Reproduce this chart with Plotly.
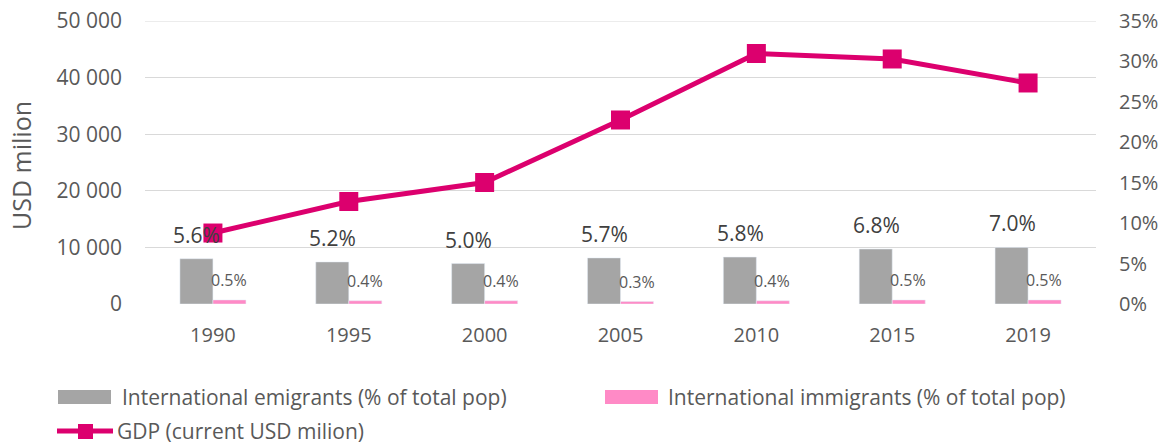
import plotly.graph_objects as go

years = ["1990", "1995", "2000", "2005", "2010", "2015", "2019"]
emigrants = [0.056, 0.052, 0.050, 0.057, 0.058, 0.068, 0.070]
immigrants = [0.005, 0.004, 0.004, 0.003, 0.004, 0.005, 0.005]
gdp = [12540, 18110, 21470, 32510, 44260, 43290, 39050]

emig_label = ["5.6%", "5.2%", "5.0%", "5.7%", "5.8%", "6.8%", "7.0%"]
immig_label = ["0.5%", "0.4%", "0.4%", "0.3%", "0.4%", "0.5%", "0.5%"]

gdp_ticks = [0, 10000, 20000, 30000, 40000, 50000]
gdp_ticktext = ["0", "10 000", "20 000", "30 000", "40 000", "50 000"]
pct_ticks = [0, 0.05, 0.10, 0.15, 0.20, 0.25, 0.30, 0.35]
pct_ticktext = ["0%", "5%", "10%", "15%", "20%", "25%", "30%", "35%"]

names = ["International emigrants (% of total pop)",
         "International immigrants (% of total pop)",
         "GDP (current USD milion)"]

GRAY = "#A5A5A5"
PINK = "#FF8AC6"
MAG = "#DC006E"
TXT = "#595959"
GRID = "#D9D9D9"
FONT = "Open Sans"

W, H = 1176, 447
# plot area in page pixels
L, R, T, B = 145, 1096, 21, 304

fig = go.Figure()
fig.add_trace(go.Bar(x=years, y=emigrants, name=names[0], marker_color=GRAY,
                     yaxis="y2", showlegend=False))
fig.add_trace(go.Bar(x=years, y=immigrants, name=names[1], marker_color=PINK,
                     yaxis="y2", showlegend=False))
fig.add_trace(go.Scatter(x=years, y=gdp, name=names[2], mode="lines+markers",
                         line=dict(color=MAG, width=5),
                         marker=dict(symbol="square", size=19, color=MAG),
                         yaxis="y", showlegend=False))

anns = []
for i, (v, t) in enumerate(zip(emigrants, emig_label)):
    anns.append(dict(x=i, y=v, xref="x", yref="y2", text=t, showarrow=False,
                     xshift=-16, yshift=24, font=dict(family=FONT, size=21, color="#404040")))
for i, (v, t) in enumerate(zip(immigrants, immig_label)):
    anns.append(dict(x=i, y=v, xref="x", yref="y2", text=t, showarrow=False,
                     xshift=16, yshift=20, font=dict(family=FONT, size=16, color=TXT)))

def px(x):
    return (x - L) / (R - L)

def py(y):
    return (B - y) / (B - T)

# y axis title
anns.append(dict(x=px(21), y=py(166), xref="paper", yref="paper", text="USD milion",
                 textangle=-90, showarrow=False, xanchor="center", yanchor="middle",
                 font=dict(family=FONT, size=25, color=TXT)))

shapes = []
# top gridline (plotly skips the one on the plot edge)
shapes.append(dict(type="line", xref="paper", yref="y", x0=0, x1=1,
                   y0=gdp_ticks[-1], y1=gdp_ticks[-1], line=dict(color=GRID, width=1),
                   layer="below"))

# custom legend
shapes.append(dict(type="rect", xref="paper", yref="paper", x0=px(58), x1=px(111),
                   y0=py(404), y1=py(390), fillcolor=GRAY, line=dict(width=0)))
shapes.append(dict(type="rect", xref="paper", yref="paper", x0=px(605), x1=px(658),
                   y0=py(404), y1=py(390), fillcolor=PINK, line=dict(width=0)))
shapes.append(dict(type="line", xref="paper", yref="paper", x0=px(57), x1=px(113),
                   y0=py(431), y1=py(431), line=dict(color=MAG, width=5)))
shapes.append(dict(type="rect", xref="paper", yref="paper", x0=px(78), x1=px(93),
                   y0=py(439), y1=py(424), fillcolor=MAG, line=dict(width=0)))
for xpos, ypos, t in [(120, 397, names[0]), (666, 397, names[1]), (115, 431, names[2])]:
    anns.append(dict(x=px(xpos), y=py(ypos), xref="paper", yref="paper", text=t,
                     showarrow=False, xanchor="left", yanchor="middle",
                     font=dict(family=FONT, size=21, color=TXT)))

fig.update_layout(
    width=W, height=H,
    margin=dict(l=L, r=W - R, t=T, b=H - B, autoexpand=False),
    plot_bgcolor="white", paper_bgcolor="white",
    barmode="group", bargap=0.514, bargroupgap=0,
    font=dict(family=FONT, size=20, color=TXT),
    xaxis=dict(type="category", range=[-0.5, len(years) - 0.5], showgrid=False,
               zeroline=False, showline=False,
               ticks="", ticklabelstandoff=17, tickfont=dict(size=20, color=TXT)),
    yaxis=dict(range=[0, gdp_ticks[-1]], tickvals=gdp_ticks, ticktext=gdp_ticktext,
               showgrid=True, gridcolor=GRID, gridwidth=1, zeroline=False,
               showline=False, ticks="", ticklabelstandoff=22,
               ticklabeloverflow="allow", tickfont=dict(size=21, color=TXT)),
    yaxis2=dict(range=[0, pct_ticks[-1]], tickvals=pct_ticks, ticktext=pct_ticktext,
                overlaying="y", side="right", showgrid=False, zeroline=False,
                showline=False, ticks="", ticklabelstandoff=22,
                ticklabeloverflow="allow", tickfont=dict(size=20, color=TXT)),
    annotations=anns, shapes=shapes,
)

fig.write_html("out.html", config={"displayModeBar": False},
               post_script="document.body.style.margin='0';")
